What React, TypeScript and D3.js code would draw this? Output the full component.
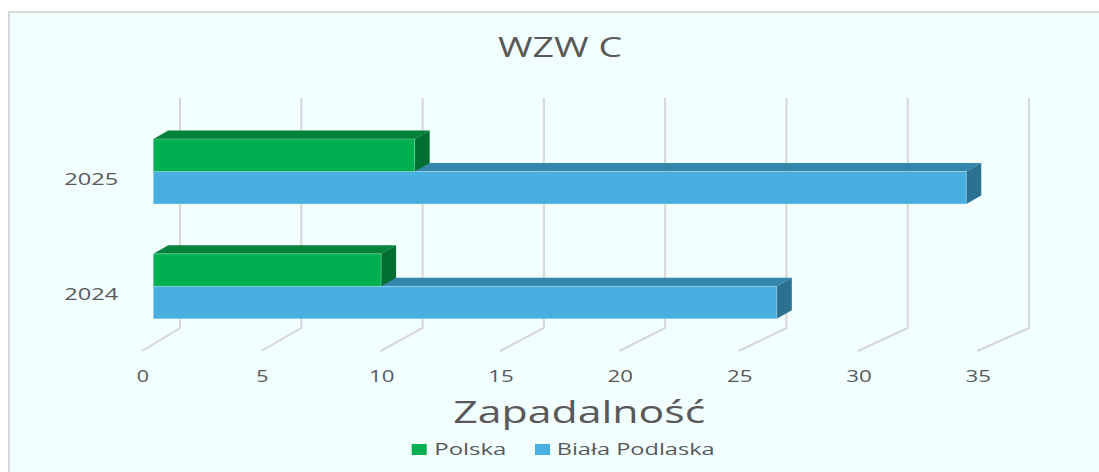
import React from "react";
import * as d3 from "d3";

const categories = ["2025", "2024"];
const seriesNames = ["Polska", "Biała Podlaska"];
const polska = [10.9, 9.5];
const bialaPodlaska = [33.9, 26.0];
const ticks = [0, 5, 10, 15, 20, 25, 30, 35];
const title = "WZW C";
const axisTitle = "Zapadalność";

const W = 1099;
const H = 472;
const FONT = "'Open Sans', 'Noto Sans', 'DejaVu Sans', sans-serif";
const TEXT = "#595959";

const colors = [
  { front: "#00B050", top: "#00823A", side: "#006F30" },
  { front: "#47B0E0", top: "#3486AC", side: "#2B7291" },
];

export default function App() {
  const xFront = d3.scaleLinear().domain([0, 35]).range([142, 977.3]);
  const xBack = d3.scaleLinear().domain([0, 35]).range([180, 1029]);
  const at = (v: number, t: number) => xFront(v) + (xBack(v) - xFront(v)) * t;
  const tF = 0.297;
  const ddx = 15;
  const dy = 8.5;

  const y = d3
    .scaleBand<string>()
    .domain(categories)
    .range([114.1, 343.7])
    .paddingInner(0.434)
    .paddingOuter(0.217);
  const ys = d3.scaleBand<string>().domain(seriesNames).range([0, y.bandwidth()]);

  const values = [polska, bialaPodlaska];

  const bar = (ci: number, si: number) => {
    const v = values[si][ci];
    const c = colors[si];
    const y0 = (y(categories[ci]) as number) + (ys(seriesNames[si]) as number);
    const y1 = y0 + ys.bandwidth();
    const x0f = at(0, tF);
    const x1f = at(v, tF);
    const x0b = x0f + ddx;
    const x1b = x1f + ddx;
    return (
      <g key={`${ci}-${si}`}>
        <polygon
          points={`${x0f},${y0} ${x1f},${y0} ${x1b},${y0 - dy} ${x0b},${y0 - dy}`}
          fill={c.top}
        />
        <polygon
          points={`${x1f},${y0} ${x1b},${y0 - dy} ${x1b},${y1 - dy} ${x1f},${y1}`}
          fill={c.side}
        />
        <rect
          x={x0f}
          y={y0}
          width={x1f - x0f}
          height={y1 - y0}
          fill={c.front}
          stroke="rgba(255,255,255,0.25)"
          strokeWidth={1}
        />
      </g>
    );
  };

  const catLabelY: Record<string, number> = {};
  categories.forEach((c) => {
    catLabelY[c] = (y(c) as number) + y.bandwidth() / 2 + 13.5;
  });

  return (
    <svg
      width={W}
      height={H}
      style={{ position: "absolute", left: 0, top: 0, display: "block" }}
      fontFamily={FONT}
    >
      <rect x={0} y={0} width={W} height={H} fill="#ffffff" />
      <rect x={9} y={12} width={1300} height={700} fill="#F2FFFF" stroke="#D9D9D9" strokeWidth={2} />

      <text x={560} y={57} textAnchor="middle" fontSize={28} fill={TEXT} textLength={124} lengthAdjust="spacingAndGlyphs">
        {title}
      </text>

      {ticks.map((t) => (
        <path
          key={t}
          d={`M${xBack(t)},98 L${xBack(t)},328 L${xFront(t)},351`}
          fill="none"
          stroke="#D6D6D6"
          strokeWidth={2}
        />
      ))}

      {categories.map((c, ci) => (
        <g key={c}>
          {bar(ci, 1)}
          {bar(ci, 0)}
        </g>
      ))}

      {categories.map((c) => (
        <text key={c} x={64.3} y={catLabelY[c]} fontSize={17} fill={TEXT} textLength={54} lengthAdjust="spacingAndGlyphs">
          {c}
        </text>
      ))}

      {ticks.map((t) => {
        const s = String(t);
        const w = s.length === 1 ? 12.3 : 25.5;
        return (
          <text
            key={t}
            x={xFront(t) + 1 - w / 2}
            y={382}
            fontSize={17}
            fill={TEXT}
            textLength={w}
            lengthAdjust="spacingAndGlyphs"
          >
            {s}
          </text>
        );
      })}

      <text x={453.3} y={422.7} fontSize={31} fill={TEXT} textLength={252} lengthAdjust="spacingAndGlyphs">
        {axisTitle}
      </text>

      <rect x={411.7} y={444} width={15} height={11} fill={colors[0].front} />
      <text x={434.3} y={455} fontSize={17} fill={TEXT} textLength={72} lengthAdjust="spacingAndGlyphs">
        {seriesNames[0]}
      </text>
      <rect x={535} y={444} width={15} height={11} fill={colors[1].front} />
      <text x={556.7} y={455} fontSize={17} fill={TEXT} textLength={158} lengthAdjust="spacingAndGlyphs">
        {seriesNames[1]}
      </text>
    </svg>
  );
}
